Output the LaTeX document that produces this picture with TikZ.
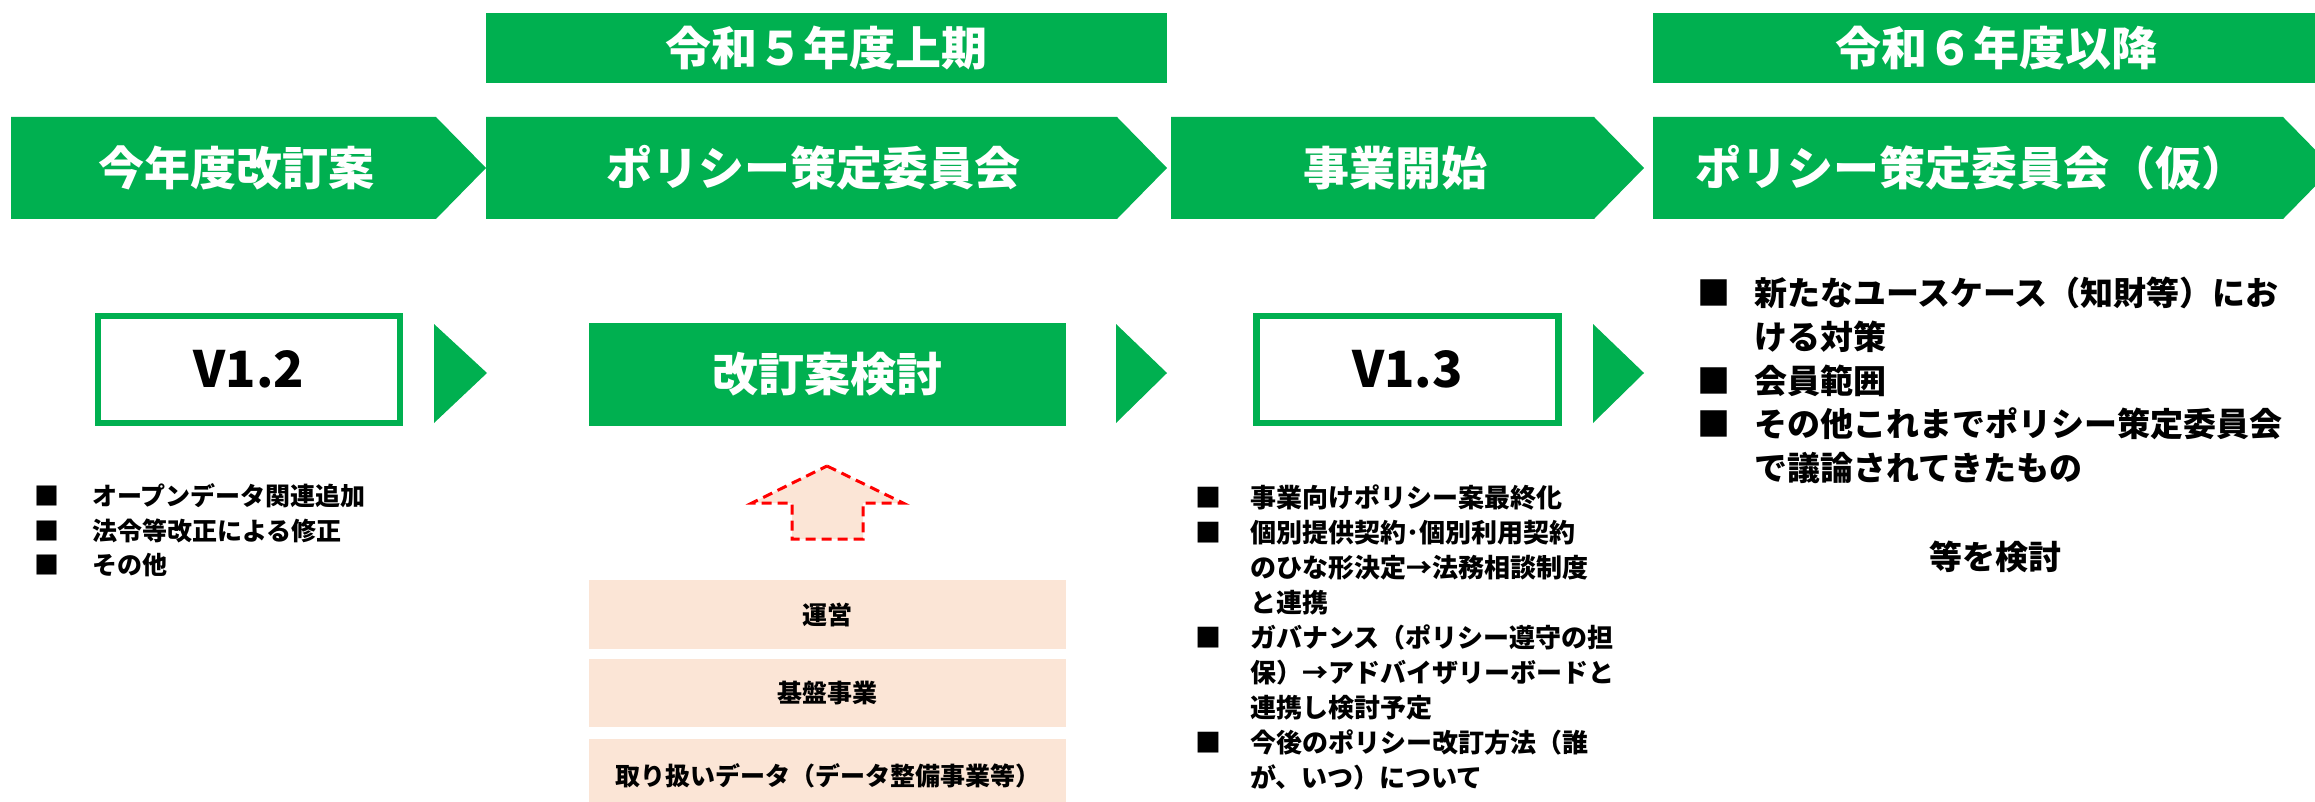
\documentclass[tikz,border=0pt]{standalone}
\usepackage{fontspec}
\setmainfont{Noto Sans CJK JP}
\definecolor{pgreen}{RGB}{0,176,80}
\definecolor{peach}{RGB}{251,229,214}
\definecolor{pred}{RGB}{255,0,0}
\tikzset{
  greenfill/.style={fill=pgreen, draw=none},
  whitetxt/.style={text=white, inner sep=0pt, font={\fontsize{46}{50}\selectfont\bfseries}},
  verbox/.style={draw=pgreen, line width=6.5pt, fill=white, minimum width=302pt, minimum height=107pt, inner sep=0pt, font={\fontsize{50}{54}\selectfont\bfseries}},
  greenbox/.style={fill=pgreen, minimum width=477pt, minimum height=103pt, inner sep=0pt, text=white, font={\fontsize{46}{50}\selectfont\bfseries}},
  peachbox/.style={fill=peach, minimum width=477pt, inner sep=0pt, font={\fontsize{25}{30}\selectfont\bfseries}},
  listtxt/.style={anchor=base west, inner sep=0pt},
  upflow/.style={fill=peach, draw=pred, line width=3pt, dash pattern=on 10pt off 6pt},
}
\begin{document}
\begin{tikzpicture}[x=1pt,y=-1pt]
\useasboundingbox (0,0) rectangle (2315,802);
\clip (0,0) rectangle (2315,802);
% top banners
\fill[greenfill] (486,13) rectangle (1167,83);
\node[whitetxt] (ban1) at (826,48) {令和５年度上期};
\fill[greenfill] (1653,13) rectangle (2340,83);
\node[whitetxt] (ban2) at (1996,48) {令和６年度以降};
% chevrons
\fill[greenfill] (11,117) -- (436,117) -- (486,168) -- (436,219) -- (11,219) -- cycle;
\node[whitetxt] (ch1) at (236,168) {今年度改訂案};
\fill[greenfill] (486,117) -- (1117,117) -- (1167,168) -- (1117,219) -- (486,219) -- cycle;
\node[whitetxt] (ch2) at (813,168) {ポリシー策定委員会};
\fill[greenfill] (1171,117) -- (1594,117) -- (1644,168) -- (1594,219) -- (1171,219) -- cycle;
\node[whitetxt] (ch3) at (1395,168) {事業開始};
\fill[greenfill] (1653,117) -- (2283,117) -- (2333,168) -- (2283,219) -- (1653,219) -- cycle;
\node[whitetxt] (ch4) at (1971,168) {ポリシー策定委員会（仮）};
% second row
\node[verbox] (v12) at (249,369.5) {V1.2};
\fill[greenfill] (434,324) -- (487,373) -- (434,423) -- cycle;
\node[greenbox] (kaitei) at (827.5,374.5) {改訂案検討};
\fill[greenfill] (1116,324) -- (1167,373) -- (1116,423) -- cycle;
\node[verbox] (v13) at (1407.5,369.5) {V1.3};
\fill[greenfill] (1593,324) -- (1644,373) -- (1593,423) -- cycle;
% dashed up arrow
\draw[upflow] (827,466) -- (903,503) -- (863,503) -- (863,539) -- (792,539) -- (792,503) -- (752,503) -- cycle;
% peach boxes
\node[peachbox, minimum height=69pt] (unei) at (827.5,614.5) {運営};
\node[peachbox, minimum height=68pt] (kiban) at (827.5,693) {基盤事業};
\node[peachbox, minimum height=73pt] (data) at (827.5,775.5) {取り扱いデータ（データ整備事業等）};
% left list
\node[listtxt, font={\fontsize{25}{34.5}\selectfont\bfseries}] (leftlist) at (34,505.5)
  {\begin{tabular}[t]{@{}p{58pt}@{}l@{}}■ & オープンデータ関連追加\\ ■ & 法令等改正による修正\\ ■ & その他\end{tabular}};
% middle right list
\node[listtxt, font={\fontsize{26}{35.1}\selectfont\bfseries}] (midlist) at (1195,507)
  {\begin{tabular}[t]{@{}p{55pt}@{}l@{}}■ & 事業向けポリシー案最終化\\ ■ & 個別提供契約･個別利用契約\\ & のひな形決定→法務相談制度\\ & と連携\\ ■ & ガバナンス（ポリシー遵守の担\\ & 保）→アドバイザリーボードと\\ & 連携し検討予定\\ ■ & 今後のポリシー改訂方法（誰\\ & が、いつ）について\end{tabular}};
% far right list
\node[listtxt, font={\fontsize{33}{43.75}\selectfont\bfseries}] (rightlist) at (1697,305.5)
  {\begin{tabular}[t]{@{}p{57pt}@{}l@{}}■ & 新たなユースケース（知財等）にお\\ & ける対策\\ ■ & 会員範囲\\ ■ & その他これまでポリシー策定委員会\\ & で議論されてきたもの\end{tabular}};
\node[inner sep=0pt, font={\fontsize{33}{40}\selectfont\bfseries}] (tou) at (1995,557) {等を検討};
\end{tikzpicture}
\end{document}
